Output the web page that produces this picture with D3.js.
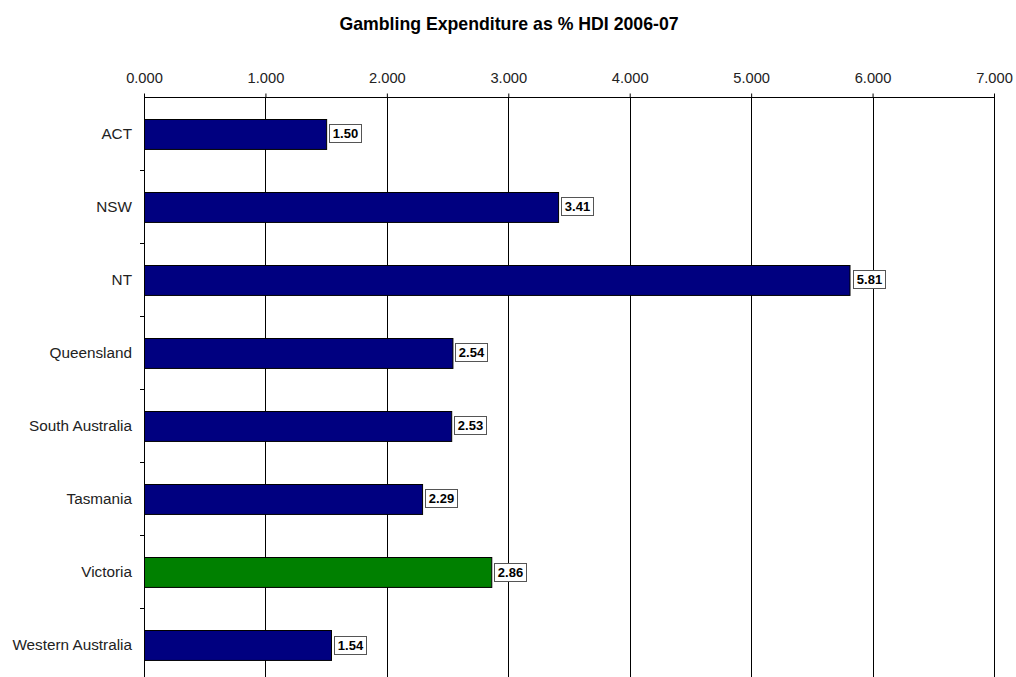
<!DOCTYPE html>
<html><head><meta charset="utf-8">
<script src="https://d3js.org/d3.v7.min.js"></script>
<style>body{margin:0;background:#fff}svg{display:block}text{font-family:"Liberation Sans",Arial,sans-serif}</style>
</head><body>
<script>
const categories = ["ACT","NSW","NT","Queensland","South Australia","Tasmania","Victoria","Western Australia"];
const values = [1.50,3.41,5.81,2.54,2.53,2.29,2.86,1.54];
const barColors = ["#000080","#000080","#000080","#000080","#000080","#000080","#008000","#000080"];
const xTicks = [0,1,2,3,4,5,6,7];
const title = "Gambling Expenditure as % HDI 2006-07";

const W=1016,H=677;
const m={left:144,right:22,top:97};
const bandH=73;
const svg=d3.select("body").append("svg").attr("width",W).attr("height",H);
const x=d3.scaleLinear().domain([0,7]).range([m.left,994]);
const y=d3.scaleBand().domain(categories).range([m.top,m.top+bandH*categories.length]).paddingInner(0.59).paddingOuter(0.295);
const bottom=m.top+bandH*categories.length;

svg.append("text").attr("x",509).attr("y",30).attr("text-anchor","middle")
  .attr("font-size",17.7).attr("font-weight","bold").attr("fill","#000").text(title);

// gridlines
svg.append("g").selectAll("line").data(xTicks.slice(1)).join("line")
  .attr("x1",d=>Math.round(x(d))+0.5).attr("x2",d=>Math.round(x(d))+0.5)
  .attr("y1",m.top).attr("y2",bottom).attr("stroke","#000").attr("stroke-width",1);

// top axis
const xa=svg.append("g").attr("transform",`translate(0,${m.top+0.5})`)
  .call(d3.axisTop(x).tickValues(xTicks).tickFormat(d3.format(".3f")).tickSize(4).tickPadding(11));
xa.select(".domain").attr("d",`M${m.left},0H994`).attr("stroke","#000");
xa.selectAll(".tick line").attr("stroke","#000");
xa.selectAll(".tick text").attr("font-size",14.7).attr("fill","#222").attr("font-family","Liberation Sans,Arial,sans-serif");

// left axis
svg.append("line").attr("x1",m.left+0.5).attr("x2",m.left+0.5).attr("y1",m.top).attr("y2",bottom).attr("stroke","#000");
const boundaries=d3.range(1,categories.length).map(i=>m.top+i*bandH);
svg.append("g").selectAll("line").data(boundaries).join("line")
  .attr("x1",m.left-4).attr("x2",m.left).attr("y1",d=>Math.round(d)+0.5).attr("y2",d=>Math.round(d)+0.5).attr("stroke","#000");
svg.append("g").selectAll("text").data(categories).join("text")
  .attr("x",132).attr("y",d=>y(d)+y.bandwidth()/2).attr("dy","0.35em").attr("text-anchor","end")
  .attr("font-size",15.3).attr("fill","#222").text(d=>d);

// bars
svg.append("g").selectAll("rect").data(values).join("rect")
  .attr("x",m.left+0.5).attr("y",(d,i)=>Math.round(y(categories[i]))+0.5)
  .attr("width",d=>x(d)-m.left).attr("height",y.bandwidth())
  .attr("fill",(d,i)=>barColors[i]).attr("stroke","#000").attr("stroke-width",1);

// labels
const lg=svg.append("g").selectAll("g").data(values).join("g")
  .attr("transform",(d,i)=>`translate(${Math.round(x(d))+3.5},${Math.round(y(categories[i])+y.bandwidth()/2)-8.5})`);
lg.append("rect").attr("width",32).attr("height",18).attr("fill","#fff").attr("stroke","#555");
lg.append("text").attr("x",16).attr("y",9).attr("dy","0.36em").attr("text-anchor","middle")
  .attr("font-size",13).attr("font-weight","bold").attr("fill","#000").text(d=>d.toFixed(2));
</script>
</body></html>
